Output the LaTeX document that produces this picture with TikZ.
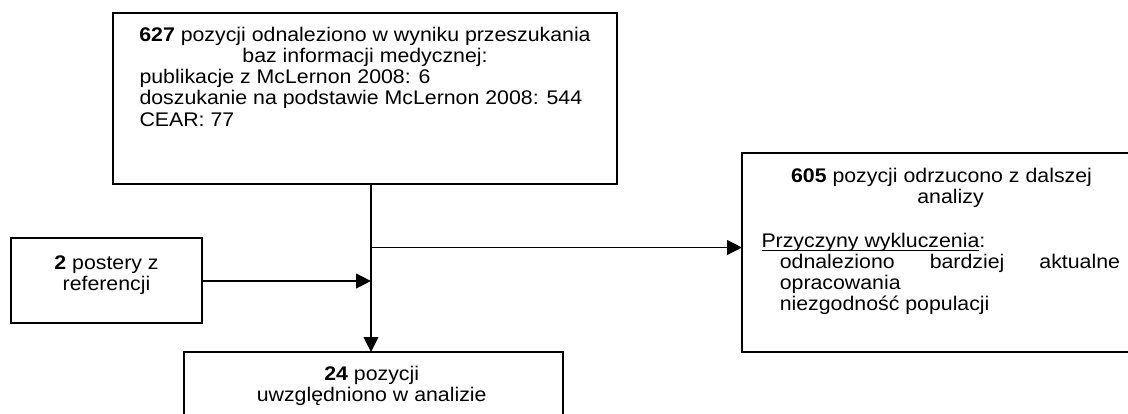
\documentclass[tikz,border=0pt]{standalone}
\usepackage{fontspec}
\setmainfont{Liberation Sans}[FakeStretch=1.08]
\usetikzlibrary{arrows.meta}
\newcommand{\myuline}[1]{{\setbox0\hbox{#1}\rlap{\rule[-2.5pt]{\wd0}{0.85pt}}\box0}}
\begin{document}
\begin{tikzpicture}[x=0.75pt,y=-0.75pt,
  box/.style={draw=black,line width=1.5pt,rectangle,inner sep=0pt,outer sep=0pt,fill=none},
  txt/.style={inner sep=0pt,outer sep=0pt,font=\fontsize{14.8pt}{15.9pt}\selectfont},
  conn/.style={line width=1.25pt,-{Triangle[length=11.25pt,width=11pt]}}]
\clip (0,0) rectangle (1128,414);
\fill[white] (0,0) rectangle (1128,414);
% boxes
\node[box,minimum width=378pt,minimum height=128.25pt] (top) at (365,98.5) {};
\node[box,minimum width=143.25pt,minimum height=63.75pt] (left) at (106.5,280.5) {};
\node[box,minimum width=306pt,minimum height=149.25pt] (right) at (946,252.5) {};
\node[box,minimum width=284.25pt,minimum height=66pt] (bot) at (373.5,396) {};
% top box text
\node[txt,anchor=base] (t1) at (365,41) {\textbf{627} pozycji odnaleziono w wyniku przeszukania};
\node[txt,anchor=base] (t2) at (365,62.5) {baz informacji medycznej:};
\node[txt,anchor=base west] (t3) at (139.5,83.5) {publikacje z McLernon 2008: 6};
\node[txt,anchor=base west] (t4) at (139.5,104.7) {doszukanie na podstawie McLernon 2008: 544};
\node[txt,anchor=base west] (t5) at (139.5,126) {CEAR: 77};
% left box text
\node[txt,anchor=base] (l1) at (106.5,269) {\textbf{2} postery z};
\node[txt,anchor=base] (l2) at (106.5,290) {referencji};
% right box text
\node[txt,anchor=base] (r1) at (941.5,182.7) {\textbf{605} pozycji odrzucono z dalszej};
\node[txt,anchor=base] (r2) at (950.5,203.7) {analizy};
\node[txt,anchor=base west] (r3) at (761.5,247.3) {\myuline{Przyczyny wykluczenia}:};
\node[txt,anchor=base west] (r4) at (779.8,268.3) {\hbox to 255.2pt{odnaleziono\hfill bardziej\hfill aktualne}};
\node[txt,anchor=base west] (r5) at (779.8,289.3) {opracowania};
\node[txt,anchor=base west] (r6) at (779.8,310.3) {niezgodność populacji};
% bottom box text
\node[txt,anchor=base] (b1) at (371.7,380) {\textbf{24} pozycji};
\node[txt,anchor=base] (b2) at (371.7,401.7) {uwzględniono w analizie};
% connectors
\coordinate (j) at (371,281);
\coordinate (br) at (371,247.5);
\draw[conn] (top.south -| j) -- (bot.north -| j);
\draw[conn] (br) -- (right.west |- br);
\draw[conn] (left.east |- j) -- (j);
\end{tikzpicture}
\end{document}
